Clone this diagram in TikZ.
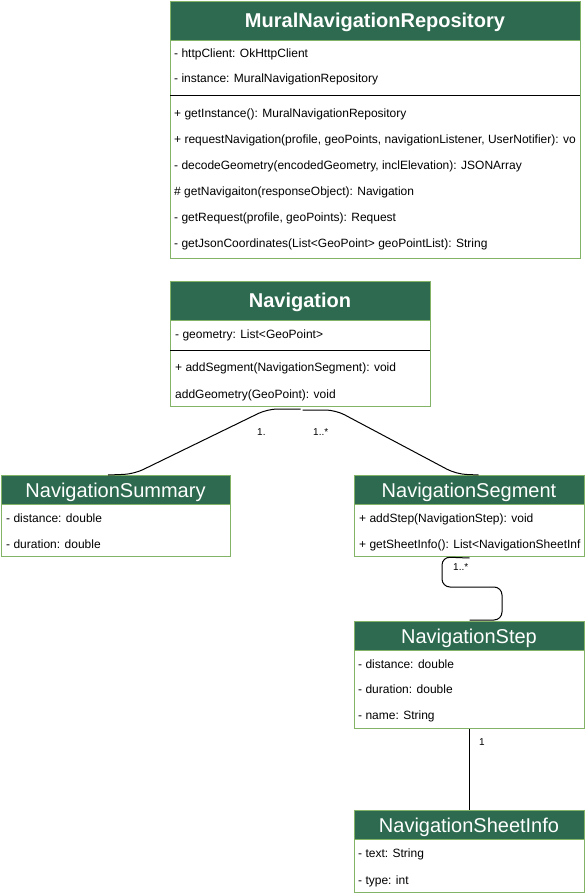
\documentclass[tikz,border=0pt]{standalone}
\usepackage{fontspec}
\setmainfont{Liberation Sans}
\usetikzlibrary{calc}
\definecolor{hdrgreen}{HTML}{2D6A4F}
\definecolor{bordgreen}{HTML}{82B366}
\tikzset{
  box/.style={draw=bordgreen, line width=1pt, fill=white, anchor=north west, inner sep=0pt, rectangle},
  hdrbox/.style={draw=bordgreen, line width=1pt, fill=hdrgreen, anchor=north west, inner sep=0pt, rectangle},
  ttl/.style={text=white, font=\fontsize{20}{24}\selectfont, anchor=base, inner sep=0pt},
  ttlb/.style={text=white, font=\fontsize{20}{24}\selectfont\bfseries, anchor=base, inner sep=0pt},
  row/.style={font=\fontsize{12}{14}\selectfont, anchor=base west, inner sep=0pt, text=black},
  sepline/.style={draw=black, line width=1pt},
  conn/.style={draw=black, line width=1pt},
  mult/.style={font=\fontsize{10}{12}\selectfont, inner sep=0pt, anchor=base west, text=black},
}
\begin{document}
\begin{tikzpicture}[x=1pt, y=-1pt]
\useasboundingbox (0,0) rectangle (585,896);
\fill[white] (0,0) rectangle (585,896);

% MuralNavigationRepository
\node[box, minimum width=410pt, minimum height=257pt] (mnr) at (170,1) {};
\node[hdrbox, minimum width=410pt, minimum height=39pt] (mnrh) at (170,1) {};
\node[ttlb] (mnrt) at (375,28) {MuralNavigationRepository};
\node[row] (mnr1) at (174,58) {- httpClient: OkHttpClient};
\node[row] (mnr2) at (174,83) {- instance: MuralNavigationRepository};
\draw[sepline] (170,96) -- (580,96);
\begin{scope}
\clip (171,97) rectangle (579,257);
\node[row] (mnr3) at (174,118) {+ getInstance(): MuralNavigationRepository};
\node[row] (mnr4) at (174,144) {+ requestNavigation(profile, geoPoints, navigationListener, UserNotifier): vo};
\node[row] (mnr5) at (174,170) {- decodeGeometry(encodedGeometry, inclElevation): JSONArray};
\node[row] (mnr6) at (174,195) {\# getNavigaiton(responseObject): Navigation};
\node[row] (mnr7) at (174,221) {- getRequest(profile, geoPoints): Request};
\node[row] (mnr8) at (174,247) {- getJsonCoordinates(List<GeoPoint> geoPointList): String};
\end{scope}

% Navigation
\node[box, minimum width=260pt, minimum height=125pt] (nav) at (170,281) {};
\node[hdrbox, minimum width=260pt, minimum height=39pt] (navh) at (170,281) {};
\node[ttlb] (navt) at (300,307) {Navigation};
\node[row] (nav1) at (175,338) {- geometry: List<GeoPoint>};
\draw[sepline] (170,350) -- (430,350);
\node[row] (nav2) at (175,371) {+ addSegment(NavigationSegment): void};
\node[row] (nav3) at (175,398) {addGeometry(GeoPoint): void};

% NavigationSummary
\node[box, minimum width=229pt, minimum height=81pt] (sum) at (1,475) {};
\node[hdrbox, minimum width=229pt, minimum height=29pt] (sumh) at (1,475) {};
\node[ttl] (sumt) at (115.5,497) {NavigationSummary};
\node[row] (sum1) at (6,522) {- distance: double};
\node[row] (sum2) at (6,548) {- duration: double};

% NavigationSegment
\node[box, minimum width=230pt, minimum height=81pt] (seg) at (354,475) {};
\node[hdrbox, minimum width=230pt, minimum height=29pt] (segh) at (354,475) {};
\node[ttl] (segt) at (469,497) {NavigationSegment};
\begin{scope}
\clip (355,505) rectangle (583,555);
\node[row] (seg1) at (359,522) {+ addStep(NavigationStep): void};
\node[row] (seg2) at (359,548) {+ getSheetInfo(): List<NavigationSheetInf};
\end{scope}

% NavigationStep
\node[box, minimum width=230pt, minimum height=107pt] (step) at (354,621) {};
\node[hdrbox, minimum width=230pt, minimum height=29pt] (steph) at (354,621) {};
\node[ttl] (stept) at (469,643) {NavigationStep};
\node[row] (step1) at (358,668) {- distance: double};
\node[row] (step2) at (358,693) {- duration: double};
\node[row] (step3) at (358,719) {- name: String};

% NavigationSheetInfo
\node[box, minimum width=230pt, minimum height=82pt] (sheet) at (354,810) {};
\node[hdrbox, minimum width=230pt, minimum height=29pt] (sheeth) at (354,810) {};
\node[ttl] (sheett) at (469,832) {NavigationSheetInfo};
\node[row] (sheet1) at (358,857) {- text: String};
\node[row] (sheet2) at (358,884) {- type: int};

% connectors
\draw[conn, rounded corners=10pt] ([yshift=-2pt]nav.south) -- ++(-33,0) -- (134,474) -- ([xshift=-8pt]sum.north);
\draw[conn, rounded corners=10pt] ([yshift=-3pt,xshift=2pt]nav.south) -- ++(33,0) -- (456,474) -- ([xshift=9pt]seg.north);
\node[mult] (m1) at (257,435) {1.};
\node[mult] (m2) at (313,435) {1..*};

\draw[conn, rounded corners=8pt] ([yshift=-1pt]seg.south) -- (442,557) -- (442,587) -- (502,587) -- (502,620) -- ([yshift=1pt]step.north);
\node[mult] (m3) at (453,570) {1..*};

\draw[conn] (step.south) -- (sheet.north);
\node[mult] (m4) at (479,745) {1};
\end{tikzpicture}
\end{document}
